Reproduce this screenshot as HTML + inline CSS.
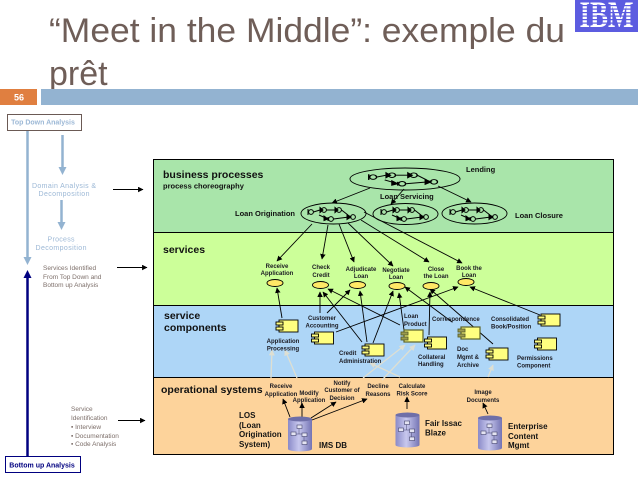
<!DOCTYPE html>
<html><head><meta charset="utf-8"><style>
html,body{margin:0;padding:0;background:#fff;width:638px;height:479px;overflow:hidden}
svg{display:block}
text{font-family:"Liberation Sans",sans-serif}
.t{font-size:6px;font-weight:bold;fill:#1a1a22;text-anchor:middle}
.h{font-size:10.500px;font-weight:bold;fill:#111}
.m{font-size:8px;font-weight:bold;fill:#111}
.g{font-size:6.500px;fill:#7d6f6a}
.b{font-size:7px;fill:#9cb8d6;text-anchor:middle}
.d{font-size:8px;font-weight:bold;fill:#141414}
</style></head><body>
<svg width="638" height="479" viewBox="0 0 638 479" xmlns="http://www.w3.org/2000/svg">
<defs>
<marker id="a" viewBox="0 0 10 10" refX="9" refY="5" markerWidth="5.500" markerHeight="5.500" orient="auto" markerUnits="userSpaceOnUse"><path d="M0 0L10 5L0 10z" fill="#000"/></marker>
<marker id="n" viewBox="0 0 10 10" refX="9" refY="5" markerWidth="5.500" markerHeight="5.500" orient="auto" markerUnits="userSpaceOnUse"><path d="M0 0L10 5L0 10z" fill="#000"/></marker>
<marker id="w" viewBox="0 0 10 10" refX="9" refY="5" markerWidth="6" markerHeight="6" orient="auto" markerUnits="userSpaceOnUse"><path d="M0 0L10 5L0 10z" fill="#dedfd2"/></marker>
<linearGradient id="cyl" x1="0" x2="1" y1="0" y2="0"><stop offset="0" stop-color="#8a8ac8"/><stop offset=".45" stop-color="#c8c8ee"/><stop offset="1" stop-color="#7474b4"/></linearGradient>
<g id="proc" fill="none" stroke="#000" stroke-width="1">
<path d="M-25 -5V1"/><circle cx="-22" cy="-2" r="2.400"/><path d="M-19.500 -2L-13 -4"/><circle cx="-9" cy="-4" r="2.400"/><path d="M-6.500 -4H3"/><circle cx="6" cy="-4" r="2.400"/><path d="M8.500 -4L15 1"/><circle cx="20" cy="3" r="2.400"/><path d="M-14 1L-5 5"/><circle cx="-2" cy="5" r="2.400"/><path d="M0.500 5L16 3"/>
<path d="M-13 -6.500L-10 -4L-13 -1.500zM2 -6.500L5 -4L2 -1.500zM-9 2L-5 5L-9 6.500zM14 0.500L18 3L14 5.500z" fill="#000"/>
<path d="M-5 3V7"/>
</g>
<g id="cmp"><rect x="3" y="0" width="19" height="12" fill="#ffff80" stroke="#000" stroke-width=".9"/><rect x="0" y="2" width="7" height="3" fill="#ffff80" stroke="#000" stroke-width=".9"/><rect x="0" y="7" width="7" height="3" fill="#ffff80" stroke="#000" stroke-width=".9"/></g>
<g id="cmp2"><rect x="3" y="0" width="19" height="12" fill="#ffff80" stroke="#5b6128" stroke-width="1.200"/><rect x="0" y="2" width="7" height="3" fill="#9a9a50" stroke="#5b6128" stroke-width=".9"/><rect x="0" y="7" width="7" height="3" fill="#9a9a50" stroke="#5b6128" stroke-width=".9"/></g>
<g id="db"><rect x="0" y="3" width="24" height="30" fill="url(#cyl)"/><ellipse cx="12" cy="33" rx="12" ry="2.500" fill="url(#cyl)"/><ellipse cx="12" cy="3" rx="12" ry="2.500" fill="#6f6fa8"/>
<g fill="#e4e4f2" stroke="#45456e" stroke-width=".6"><rect x="9" y="9" width="5" height="3.500"/><rect x="3" y="16" width="5" height="3.500"/><rect x="14" y="17" width="5" height="3.500"/><rect x="14" y="25" width="5" height="3.500"/></g>
<path d="M11 12.500V18M8 18H14M16 20.500V25" stroke="#45456e" stroke-width=".5" fill="none"/></g>
</defs>
<rect width="638" height="479" fill="#fff"/>

<text x="49" y="42" font-size="34" fill="#6f5e58" textLength="516" lengthAdjust="spacingAndGlyphs">“Meet in the Middle”: exemple du</text>
<text x="49" y="85" font-size="34" fill="#6f5e58">prêt</text>
<rect x="0" y="89" width="37" height="16" fill="#e07f40"/>
<rect x="41" y="89" width="597" height="16" fill="#93b3d1"/>
<text x="19" y="100.500" font-size="9" font-weight="bold" fill="#fff" text-anchor="middle">56</text>

<rect x="575" y="0" width="63" height="32" fill="#5c5ce0"/>
<text x="606.500" y="27" font-size="37" font-weight="bold" fill="#fff" text-anchor="middle" textLength="54" lengthAdjust="spacingAndGlyphs" style="font-family:'Liberation Serif',serif">IBM</text>
<g fill="#5c5ce0"><rect x="575" y="5" width="63" height="1.200"/><rect x="575" y="8.500" width="63" height="1.200"/><rect x="575" y="12" width="63" height="1.200"/><rect x="575" y="15.500" width="63" height="1.200"/><rect x="575" y="19" width="63" height="1.200"/><rect x="575" y="22.500" width="63" height="1.200"/></g>

<rect x="7.500" y="114.500" width="74" height="16" fill="#fff" stroke="#6b5a55" stroke-width="1"/>
<text x="43" y="124.500" font-size="7" font-weight="bold" fill="#9cb8d6" text-anchor="middle">Top Down Analysis</text>

<path d="M27.500 131V258" stroke="#93b3d1" stroke-width="2.500"/><path d="M23.500 257L27.500 265L31.500 257z" fill="#93b3d1"/>
<path d="M62.500 135V168" stroke="#93b3d1" stroke-width="2.500"/><path d="M58.500 167L62.500 175L66.500 167z" fill="#93b3d1"/>
<path d="M61.500 200V223" stroke="#93b3d1" stroke-width="2.500"/><path d="M57.500 222L61.500 230L65.500 222z" fill="#93b3d1"/>
<path d="M27.500 456V277" stroke="#000080" stroke-width="2.500"/><path d="M23.500 278L27.500 270L31.500 278z" fill="#000080"/>

<text class="b" x="64" y="188" textLength="64" lengthAdjust="spacing">Domain Analysis &amp;</text>
<text class="b" x="64" y="196" textLength="51" lengthAdjust="spacing">Decomposition</text>
<text class="b" x="61" y="241.500" textLength="27" lengthAdjust="spacing">Process</text>
<text class="b" x="61" y="250" textLength="51" lengthAdjust="spacing">Decomposition</text>
<text class="g" x="43" y="270">Services Identified</text>
<text class="g" x="43" y="279">From Top Down and</text>
<text class="g" x="43" y="287">Bottom up Analysis</text>
<text class="g" x="71" y="411">Service</text>
<text class="g" x="71" y="420">Identification</text>
<text class="g" x="71" y="429">▪ Interview</text>
<text class="g" x="71" y="438">▪ Documentation</text>
<text class="g" x="71" y="446">▪ Code Analysis</text>
<rect x="5.500" y="456.500" width="75" height="16" fill="#fff" stroke="#000080" stroke-width="1"/>
<text x="42" y="467.500" font-size="7" font-weight="bold" fill="#000080" text-anchor="middle">Bottom up Analysis</text>

<path d="M113 189.500H143" stroke="#000" stroke-width="1" marker-end="url(#n)"/>
<path d="M117 267.500H147" stroke="#000" stroke-width="1" marker-end="url(#n)"/>
<path d="M118 420.500H145" stroke="#000" stroke-width="1" marker-end="url(#n)"/>

<rect x="153.500" y="159.500" width="460" height="73" fill="#a9e5aa"/>
<rect x="153.500" y="232.500" width="460" height="73" fill="#ccff99"/>
<rect x="153.500" y="305.500" width="460" height="72" fill="#aed6f7"/>
<rect x="153.500" y="377.500" width="460" height="77" fill="#fdd39b"/>
<path d="M153.500 159.500H613.500V454.500H153.500zM153.500 232.500H613.500M153.500 305.500H613.500M153.500 377.500H613.500" fill="none" stroke="#000" stroke-width="1"/>

<text class="h" x="163" y="178">business processes</text>
<text x="163" y="188.500" font-size="7.500" font-weight="bold" fill="#111">process choreography</text>
<text class="h" x="163" y="253">services</text>
<text class="h" x="164" y="319">service</text>
<text class="h" x="164" y="331">components</text>
<text class="h" x="161" y="393">operational systems</text>

<g fill="none" stroke="#000" stroke-width=".9">
<ellipse cx="405" cy="179" rx="55" ry="11"/>
<ellipse cx="333.500" cy="213.500" rx="32.500" ry="10.500"/>
<ellipse cx="405.500" cy="214" rx="32.500" ry="10.500"/>
<ellipse cx="474.500" cy="213.500" rx="32.500" ry="10.500"/>
</g>
<use href="#proc" x="333" y="214"/>
<use href="#proc" x="406" y="214"/>
<use href="#proc" x="475" y="214"/>
<use href="#proc" transform="translate(405 179) scale(1.450 .95)"/>

<text class="m" x="466" y="172" style="font-size:7.500px">Lending</text>
<text class="m" x="380" y="199" style="font-size:7.500px">Loan Servicing</text>
<text class="m" x="235" y="216" style="font-size:7.500px">Loan Origination</text>
<text class="m" x="515" y="218" style="font-size:7.500px">Loan Closure</text>

<g stroke="#000" stroke-width=".9" fill="none">
<path d="M370 188L332 203" marker-end="url(#a)"/>
<path d="M404 189L391 204" marker-end="url(#a)"/>
<path d="M438 186L471 202" marker-end="url(#a)"/>
<path d="M312 224L277 261" marker-end="url(#a)"/>
<path d="M328 225L322 259" marker-end="url(#a)"/>
<path d="M339 224L354 262" marker-end="url(#a)"/>
<path d="M348 223L393 266" marker-end="url(#a)"/>
<path d="M361 220L429 262" marker-end="url(#a)"/>
<path d="M364 212L462 263" marker-end="url(#a)"/>
<path d="M282 318L277 288" marker-end="url(#a)"/>
<path d="M320 313V292" marker-end="url(#a)"/>
<path d="M327 313L350 290" marker-end="url(#a)"/>
<path d="M362 342L323 292" marker-end="url(#a)"/>
<path d="M367 342L360 291" marker-end="url(#a)"/>
<path d="M373 343L393 291" marker-end="url(#a)"/>
<path d="M336 332L458 287" marker-end="url(#a)"/>
<path d="M404 330L399 293" marker-end="url(#a)"/>
<path d="M400 325L328 289" marker-end="url(#a)"/>
<path d="M429 335L430 292" marker-end="url(#a)"/>
<path d="M452 322L405 287" marker-end="url(#a)"/>
<path d="M493 344L430 289" marker-end="url(#a)"/>
<path d="M540 315L470 287" marker-end="url(#a)"/>
<path d="M290 417L283 399" marker-end="url(#a)"/>
<path d="M302 417V403" marker-end="url(#a)"/>
<path d="M311 418L336 402" marker-end="url(#a)"/>
<path d="M312 420L367 399" marker-end="url(#a)"/>
<path d="M407 409V397" marker-end="url(#a)"/>
<path d="M488 414L483 403" marker-end="url(#a)"/>
</g>

<g stroke="#dedfd2" stroke-width="1.300" fill="none">
<path d="M271 378L272 350" marker-end="url(#w)"/>
<path d="M297 378L285 350" marker-end="url(#w)"/>
<path d="M363 378L405 345" marker-end="url(#w)"/>
<path d="M382 380L415 345" marker-end="url(#w)"/>
<path d="M400 377L370 363" marker-end="url(#w)"/>
<path d="M488 377L493 365" marker-end="url(#w)"/>
</g>

<g fill="#ffe866" stroke="#000" stroke-width=".9">
<ellipse cx="275" cy="283" rx="8" ry="3.500"/>
<ellipse cx="320.500" cy="285" rx="8" ry="3.500"/>
<ellipse cx="357.500" cy="285" rx="8" ry="3.500"/>
<ellipse cx="397" cy="286" rx="8" ry="3.500"/>
<ellipse cx="431" cy="286" rx="8" ry="3.500"/>
<ellipse cx="466" cy="282" rx="8" ry="3.500"/>
</g>

<use href="#cmp" x="276" y="320"/>
<use href="#cmp" x="311.500" y="332"/>
<use href="#cmp" x="362" y="344"/>
<use href="#cmp2" x="401" y="330"/>
<use href="#cmp" x="424.500" y="337"/>
<use href="#cmp2" x="458" y="327"/>
<use href="#cmp" x="486" y="348"/>
<use href="#cmp" x="538" y="314"/>
<use href="#cmp" x="534.500" y="338"/>

<use href="#db" x="288" y="416"/>
<use href="#db" x="395.500" y="412"/>
<use href="#db" x="478" y="415"/>

<text class="t" x="277" y="268">Receive</text><text class="t" x="277" y="275">Application</text>
<text class="t" x="321" y="269">Check</text><text class="t" x="321" y="277">Credit</text>
<text class="t" x="361" y="271">Adjudicate</text><text class="t" x="361" y="278">Loan</text>
<text class="t" x="396" y="272">Negotiate</text><text class="t" x="396" y="279">Loan</text>
<text class="t" x="436" y="271">Close</text><text class="t" x="436" y="278">the Loan</text>
<text class="t" x="469" y="270">Book the</text><text class="t" x="469" y="277">Loan</text>

<text class="t" x="322" y="320">Customer</text><text class="t" x="322" y="327.500">Accounting</text>
<text class="t" x="283" y="343">Application</text><text class="t" x="283" y="350.500">Processing</text>
<text class="t" x="339" y="355" style="text-anchor:start">Credit</text><text class="t" x="339" y="363" style="text-anchor:start">Administration</text>
<text class="t" x="404" y="318" style="text-anchor:start">Loan</text><text class="t" x="404" y="326" style="text-anchor:start">Product</text>
<text class="t" x="432" y="321" style="text-anchor:start">Correspondence</text>
<text class="t" x="491" y="321" style="text-anchor:start">Consolidated</text><text class="t" x="491" y="328.500" style="text-anchor:start">Book/Position</text>
<text class="t" x="418" y="359" style="text-anchor:start">Collateral</text><text class="t" x="418" y="366" style="text-anchor:start">Handling</text>
<text class="t" x="457" y="351" style="text-anchor:start">Doc</text><text class="t" x="457" y="359" style="text-anchor:start">Mgmt &amp;</text><text class="t" x="457" y="367" style="text-anchor:start">Archive</text>
<text class="t" x="517" y="360" style="text-anchor:start">Permissions</text><text class="t" x="517" y="367.500" style="text-anchor:start">Component</text>

<text class="t" x="281" y="388">Receive</text><text class="t" x="281" y="396">Application</text>
<text class="t" x="309" y="395">Modify</text><text class="t" x="309" y="402">Application</text>
<text class="t" x="342" y="385">Notify</text><text class="t" x="342" y="392">Customer of</text><text class="t" x="342" y="400">Decision</text>
<text class="t" x="378" y="388">Decline</text><text class="t" x="378" y="396">Reasons</text>
<text class="t" x="412" y="388">Calculate</text><text class="t" x="412" y="395.500">Risk Score</text>
<text class="t" x="483" y="394">Image</text><text class="t" x="483" y="402">Documents</text>

<text class="d" x="239" y="418">LOS</text><text class="d" x="239" y="428">(Loan</text><text class="d" x="239" y="437">Origination</text><text class="d" x="239" y="447">System)</text>
<text class="d" x="319" y="448">IMS DB</text>
<text class="d" x="425" y="426">Fair Issac</text><text class="d" x="425" y="435.500">Blaze</text>
<text class="d" x="508" y="429">Enterprise</text><text class="d" x="508" y="439">Content</text><text class="d" x="508" y="448">Mgmt</text>
</svg>
</body></html>
